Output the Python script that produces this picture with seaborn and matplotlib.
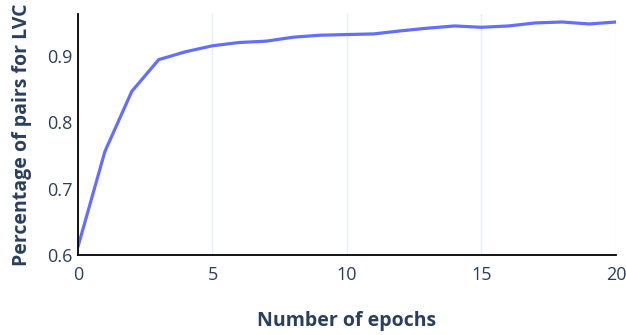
import matplotlib
matplotlib.use("Agg")
import matplotlib.pyplot as plt
import seaborn as sns
import pandas as pd

# data
epochs = list(range(21))
lvc_pct = [0.612, 0.756, 0.847, 0.895, 0.907, 0.916, 0.921, 0.923, 0.929, 0.932,
           0.933, 0.934, 0.9386, 0.9427, 0.946, 0.944, 0.946, 0.9506, 0.952, 0.949, 0.952]

df = pd.DataFrame({"epoch": epochs, "pct": lvc_pct})

sns.set_theme(style="white")
plt.rcParams["font.family"] = ["Open Sans", "DejaVu Sans"]

text_col = "#2a3f5f"

fig = plt.figure(figsize=(6.26, 3.35), dpi=100)
ax = fig.add_axes([0.1246, 0.240, 0.8594, 0.718])

sns.lineplot(data=df, x="epoch", y="pct", color="#636efa", linewidth=2.3, ax=ax)

ax.set_xlim(0, 20)
ax.set_ylim(0.6, 0.964)
ax.set_xticks([0, 5, 10, 15, 20])
ax.set_yticks([0.6, 0.7, 0.8, 0.9])
ax.set_yticklabels(["0.6", "0.7", "0.8", "0.9"])

ax.grid(axis="x", color="#e5ecf6", linewidth=1)
ax.grid(axis="y", visible=False)
ax.set_axisbelow(True)

for side in ["top", "right"]:
    ax.spines[side].set_visible(False)
for side in ["left", "bottom"]:
    ax.spines[side].set_color("black")
    ax.spines[side].set_linewidth(1.3)

ax.tick_params(axis="both", labelsize=13, colors=text_col, length=0)
ax.tick_params(axis="x", pad=8)
ax.tick_params(axis="y", pad=4)

ax.set_xlabel("Number of epochs", fontsize=14, fontweight="bold", color=text_col, labelpad=20)
ax.set_ylabel("Percentage of pairs for LVC", fontsize=14, fontweight="bold", color=text_col, labelpad=11)

fig.savefig("out.png", dpi=100)
